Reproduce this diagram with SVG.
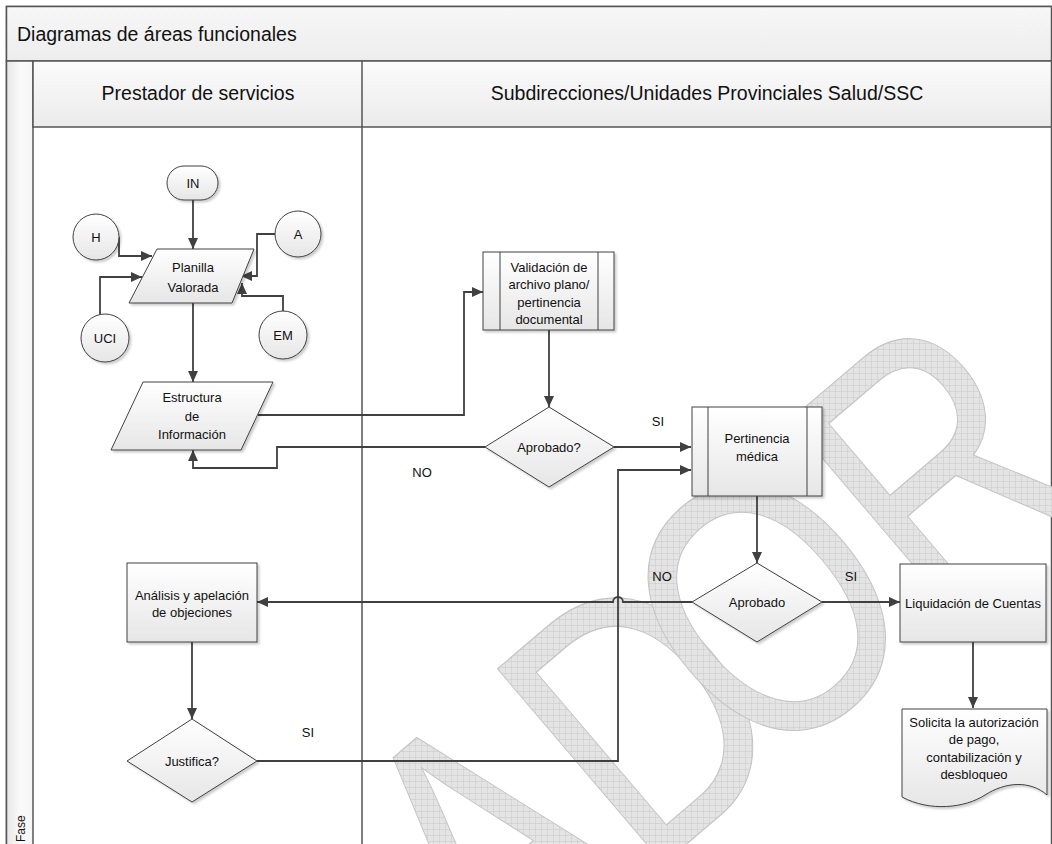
<svg xmlns="http://www.w3.org/2000/svg" width="1052" height="844" viewBox="0 0 1052 844">
<defs>
<style>
.node{fill:url(#ng);stroke:#404040;stroke-width:1;filter:url(#sh)}
.lane{stroke:#555;stroke-width:1.5;fill:none}
.con{fill:none;stroke:#404040;stroke-width:1.8}
.arr{marker-end:url(#ah)}
text{font-family:"Liberation Sans",Arial,sans-serif;fill:#111}
.t{font-size:13px;text-anchor:middle}
.lbl{font-size:13px;text-anchor:middle}
.hdr{font-size:19.5px}
</style>
<linearGradient id="ng" x1="0" y1="0" x2="0" y2="1"><stop offset="0" stop-color="#ffffff"/><stop offset="1" stop-color="#e6e6e6"/></linearGradient>
<linearGradient id="hg" x1="0" y1="0" x2="0" y2="1"><stop offset="0" stop-color="#fbfbfb"/><stop offset="1" stop-color="#ebebeb"/></linearGradient>
<linearGradient id="tg" x1="0" y1="0" x2="0" y2="1"><stop offset="0" stop-color="#f7f7f7"/><stop offset="1" stop-color="#ededed"/></linearGradient>
<linearGradient id="cg" x1="0" y1="0" x2="1" y2="0"><stop offset="0" stop-color="#e6e6e6"/><stop offset="0.5" stop-color="#fafafa"/><stop offset="1" stop-color="#f6f6f6"/></linearGradient>
<filter id="sh" x="-10%" y="-10%" width="130%" height="130%"><feDropShadow dx="2" dy="2" stdDeviation="1.2" flood-color="#000" flood-opacity="0.2"/></filter>
<pattern id="grid" width="6" height="6" patternUnits="userSpaceOnUse" patternTransform="scale(1.266,1) rotate(40.4)"><rect width="6" height="6" fill="#e4e4e4"/><path d="M0,0.25H6M0.25,0V6" stroke="#c8c8c8" stroke-width="0.6"/></pattern>
<marker id="ah" markerUnits="userSpaceOnUse" markerWidth="12" markerHeight="10" refX="11" refY="5" orient="auto"><path d="M0,0L11,5L0,10z" fill="#404040"/></marker>
</defs>

<g id="frame">
<rect x="6.5" y="6.5" width="1045" height="850" fill="#fff" stroke="#555" stroke-width="1.5"/>
<rect x="6.5" y="6.5" width="1045" height="54.5" fill="url(#tg)" stroke="#555" stroke-width="1.5"/>
<text x="17" y="41" class="hdr">Diagramas de áreas funcionales</text>
<rect x="6.5" y="61" width="26.5" height="790" fill="url(#cg)" stroke="#555" stroke-width="1.5"/>
<rect x="33" y="61" width="1018.5" height="66" fill="url(#hg)" stroke="#555" stroke-width="1.5"/>
<line x1="362" y1="61" x2="362" y2="844" class="lane"/>
<text x="198" y="100" class="hdr" text-anchor="middle">Prestador de servicios</text>
<text x="707" y="100" class="hdr" text-anchor="middle">Subdirecciones/Unidades Provinciales Salud/SSC</text>
<text transform="translate(25,842) rotate(-90)" font-size="12">Fase</text>
</g>

<g id="watermark">
<text transform="translate(1099,493) rotate(-40.4) scale(0.79,1)" text-anchor="end" dx="0 0 0 0 0 0 -72" font-size="372" stroke="#c4c4c4" stroke-width="1.2" style="fill:url(#grid)">BORRADOR</text>
</g>

<g id="connectors">
<path class="con arr" d="M193,200V249"/>
<path class="con arr" d="M119,237V256H152"/>
<path class="con arr" d="M100,315V277H142"/>
<path class="con arr" d="M275,234H257V276H241"/>
<path class="con arr" d="M283,311V296H242V283"/>
<path class="con arr" d="M193,303V382"/>
<path class="con arr" d="M258,415H464V292H483"/>
<path class="con arr" d="M549,330V407"/>
<path class="con arr" d="M614,447H691"/>
<path class="con arr" d="M485,447H277V468H193V450"/>
<path class="con arr" d="M257,761H618V470H691"/>
<path class="con arr" d="M757,496V563"/>
<path class="con arr" d="M822,602H900"/>
<path class="con arr" d="M692,602H623A5,5 0 0 0 613,602H257"/>
<path class="con arr" d="M192,642V719"/>
<path class="con arr" d="M973,642V708"/>
<text x="658" y="426" class="lbl">SI</text>
<text x="422" y="477" class="lbl">NO</text>
<text x="662" y="581" class="lbl">NO</text>
<text x="851" y="581" class="lbl">SI</text>
<text x="308" y="737" class="lbl">SI</text>
</g>

<g id="n-in"><rect x="167" y="166" width="51" height="34" rx="17" class="node"/><text x="193" y="187.5" class="t">IN</text></g>
<g id="n-h"><circle cx="96" cy="237" r="23" class="node"/><text x="96" y="241.5" class="t">H</text></g>
<g id="n-a"><circle cx="298" cy="234" r="23" class="node"/><text x="298" y="238.5" class="t">A</text></g>
<g id="n-uci"><circle cx="105" cy="338" r="24" class="node"/><text x="105" y="342.5" class="t">UCI</text></g>
<g id="n-em"><circle cx="283" cy="335" r="24" class="node"/><text x="283" y="339.5" class="t">EM</text></g>
<g id="n-planilla"><path d="M157,249H254L232,303H129Z" class="node"/><text x="193" y="272" class="t">Planilla</text><text x="193" y="292" class="t">Valorada</text></g>
<g id="n-estructura"><path d="M143,382H273L241,450H111Z" class="node"/><text x="192" y="402" class="t">Estructura</text><text x="192" y="421" class="t">de</text><text x="192" y="439" class="t">Información</text></g>
<g id="n-validacion"><rect x="483" y="252" width="131" height="78" class="node"/><path d="M500,252V330M598,252V330" stroke="#404040" fill="none"/><text x="549" y="271.5" class="t">Validación de</text><text x="549" y="289" class="t">archivo plano/</text><text x="549" y="306.5" class="t">pertinencia</text><text x="549" y="324" class="t">documental</text></g>
<g id="n-aprobado1"><path d="M549,407L614,447L549,487L485,447Z" class="node"/><text x="549" y="451.5" class="t">Aprobado?</text></g>
<g id="n-pertinencia"><rect x="692" y="407" width="130" height="89" class="node"/><path d="M708,407V496M807,407V496" stroke="#404040" fill="none"/><text x="757" y="442.5" class="t">Pertinencia</text><text x="757" y="460.5" class="t">médica</text></g>
<g id="n-aprobado2"><path d="M757,563L822,602L757,642L692,602Z" class="node"/><text x="757" y="606.5" class="t">Aprobado</text></g>
<g id="n-liquidacion"><rect x="900" y="564" width="146" height="78" class="node"/><text x="973" y="607.5" class="t">Liquidación de Cuentas</text></g>
<g id="n-solicita"><path d="M902,709H1047V795C1030,780 1005,782 985,795C965,808 930,812 902,797Z" class="node"/><text x="974" y="726.5" class="t">Solicita la autorización</text><text x="974" y="743.5" class="t">de pago,</text><text x="974" y="761.5" class="t">contabilización y</text><text x="974" y="778.5" class="t">desbloqueo</text></g>
<g id="n-analisis"><rect x="127" y="563" width="130" height="79" class="node"/><text x="192" y="600" class="t">Análisis y apelación</text><text x="192" y="617" class="t">de objeciones</text></g>
<g id="n-justifica"><path d="M192,719L257,761L192,802L127,761Z" class="node"/><text x="192" y="765.5" class="t">Justifica?</text></g>
</svg>
